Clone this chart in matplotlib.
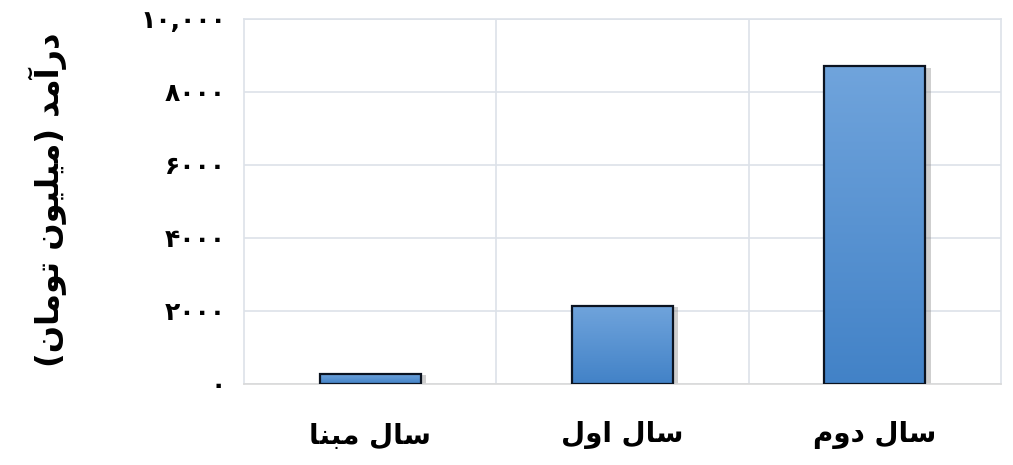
import matplotlib
matplotlib.use("Agg")
import matplotlib.pyplot as plt
import matplotlib.patheffects as pe
from matplotlib.colors import LinearSegmentedColormap
import numpy as np

# ---------------------------------------------------------------------------
# Data
# ---------------------------------------------------------------------------
categories = ["سال مبنا", "سال اول", "سال دوم"]
revenue = [280, 2150, 8700]
y_ticks = [0, 2000, 4000, 6000, 8000, 10000]
y_label = "درآمد (میلیون تومان)"

# ---------------------------------------------------------------------------
# Minimal Persian shaping (no arabic_reshaper available)
# ---------------------------------------------------------------------------
FORMS = {
    "ا": ("\uFE8D", "\uFE8E", None, None),
    "آ": ("\uFE81", "\uFE82", None, None),
    "ب": ("\uFE8F", "\uFE90", "\uFE91", "\uFE92"),
    "ت": ("\uFE95", "\uFE96", "\uFE97", "\uFE98"),
    "د": ("\uFEA9", "\uFEAA", None, None),
    "ر": ("\uFEAD", "\uFEAE", None, None),
    "س": ("\uFEB1", "\uFEB2", "\uFEB3", "\uFEB4"),
    "ل": ("\uFEDD", "\uFEDE", "\uFEDF", "\uFEE0"),
    "م": ("\uFEE1", "\uFEE2", "\uFEE3", "\uFEE4"),
    "ن": ("\uFEE5", "\uFEE6", "\uFEE7", "\uFEE8"),
    "و": ("\uFEED", "\uFEEE", None, None),
    "ی": ("\uFBFC", "\uFBFD", "\uFEF3", "\uFEF4"),
}
MIRROR = {"(": ")", ")": "("}


def shape(s):
    out = []
    for i, ch in enumerate(s):
        if ch not in FORMS:
            out.append(ch)
            continue
        prev = s[i - 1] if i > 0 else ""
        nxt = s[i + 1] if i + 1 < len(s) else ""
        joins_prev = prev in FORMS and FORMS[prev][2] is not None
        joins_next = nxt in FORMS and FORMS[ch][2] is not None
        iso, fin, ini, med = FORMS[ch]
        if joins_prev and joins_next:
            out.append(med)
        elif joins_prev:
            out.append(fin)
        elif joins_next:
            out.append(ini)
        else:
            out.append(iso)
    return "".join(MIRROR.get(c, c) for c in reversed(out))


def fa_num(v):
    digits = "۰۱۲۳۴۵۶۷۸۹"
    s = f"{v:,}" if v >= 10000 else str(v)
    return "".join(digits[int(c)] if c.isdigit() else c for c in s)


# ---------------------------------------------------------------------------
# Figure
# ---------------------------------------------------------------------------
plt.rcParams["font.family"] = ["DejaVu Sans"]
fig = plt.figure(figsize=(10.13, 4.65), dpi=100)
ax = fig.add_axes([0.2409, 0.1742, 0.747, 0.785])

x = np.arange(len(categories))
bars = ax.bar(x, revenue, width=0.4, facecolor="none", edgecolor="#0B1320",
              linewidth=1.6, zorder=4)

cmap = LinearSegmentedColormap.from_list("blue", ["#4282C7", "#70A4DC"])
grad = np.linspace(0, 1, 256).reshape(-1, 1)
for b in bars:
    x0, w, h = b.get_x(), b.get_width(), b.get_height()
    # soft drop shadow
    ax.bar(x0 + w / 2, h, width=w, color="#9A9A9A", alpha=0.45, zorder=2,
           path_effects=[pe.SimplePatchShadow(offset=(4, -1), alpha=0.4,
                                              shadow_rgbFace="#888888")])
    im = ax.imshow(grad, extent=[x0, x0 + w, 0, h], origin="lower",
                   aspect="auto", cmap=cmap, zorder=3)
    im.set_clip_path(b)

ax.set_xlim(-0.5, len(categories) - 0.5)
ax.set_ylim(0, 10000)

ax.set_yticks(y_ticks)
ax.set_yticklabels([fa_num(v) for v in y_ticks], fontsize=18,
                   fontweight="semibold")
ax.set_xticks(x)
ax.set_xticklabels([shape(c) for c in categories], fontsize=20,
                   fontweight="bold")
ax.set_xticks(np.arange(len(categories) - 1) + 0.5, minor=True)
ax.tick_params(axis="y", length=0, pad=13)
ax.tick_params(axis="x", which="both", length=0, pad=27)

grid_c = "#DDE2E9"
ax.grid(axis="y", color=grid_c, lw=1.2, zorder=0)
ax.grid(axis="x", which="minor", color=grid_c, lw=1.2, zorder=0)
ax.grid(axis="x", which="major", visible=False)
for sp in ax.spines.values():
    sp.set_color(grid_c)
    sp.set_linewidth(1.2)
ax.spines["bottom"].set_color("#D9D9D9")

fig.text(0.047, 0.57, shape(y_label), rotation=90, fontsize=23,
         fontweight="bold", ha="center", va="center")

fig.savefig("out.png", dpi=100, facecolor="white")
